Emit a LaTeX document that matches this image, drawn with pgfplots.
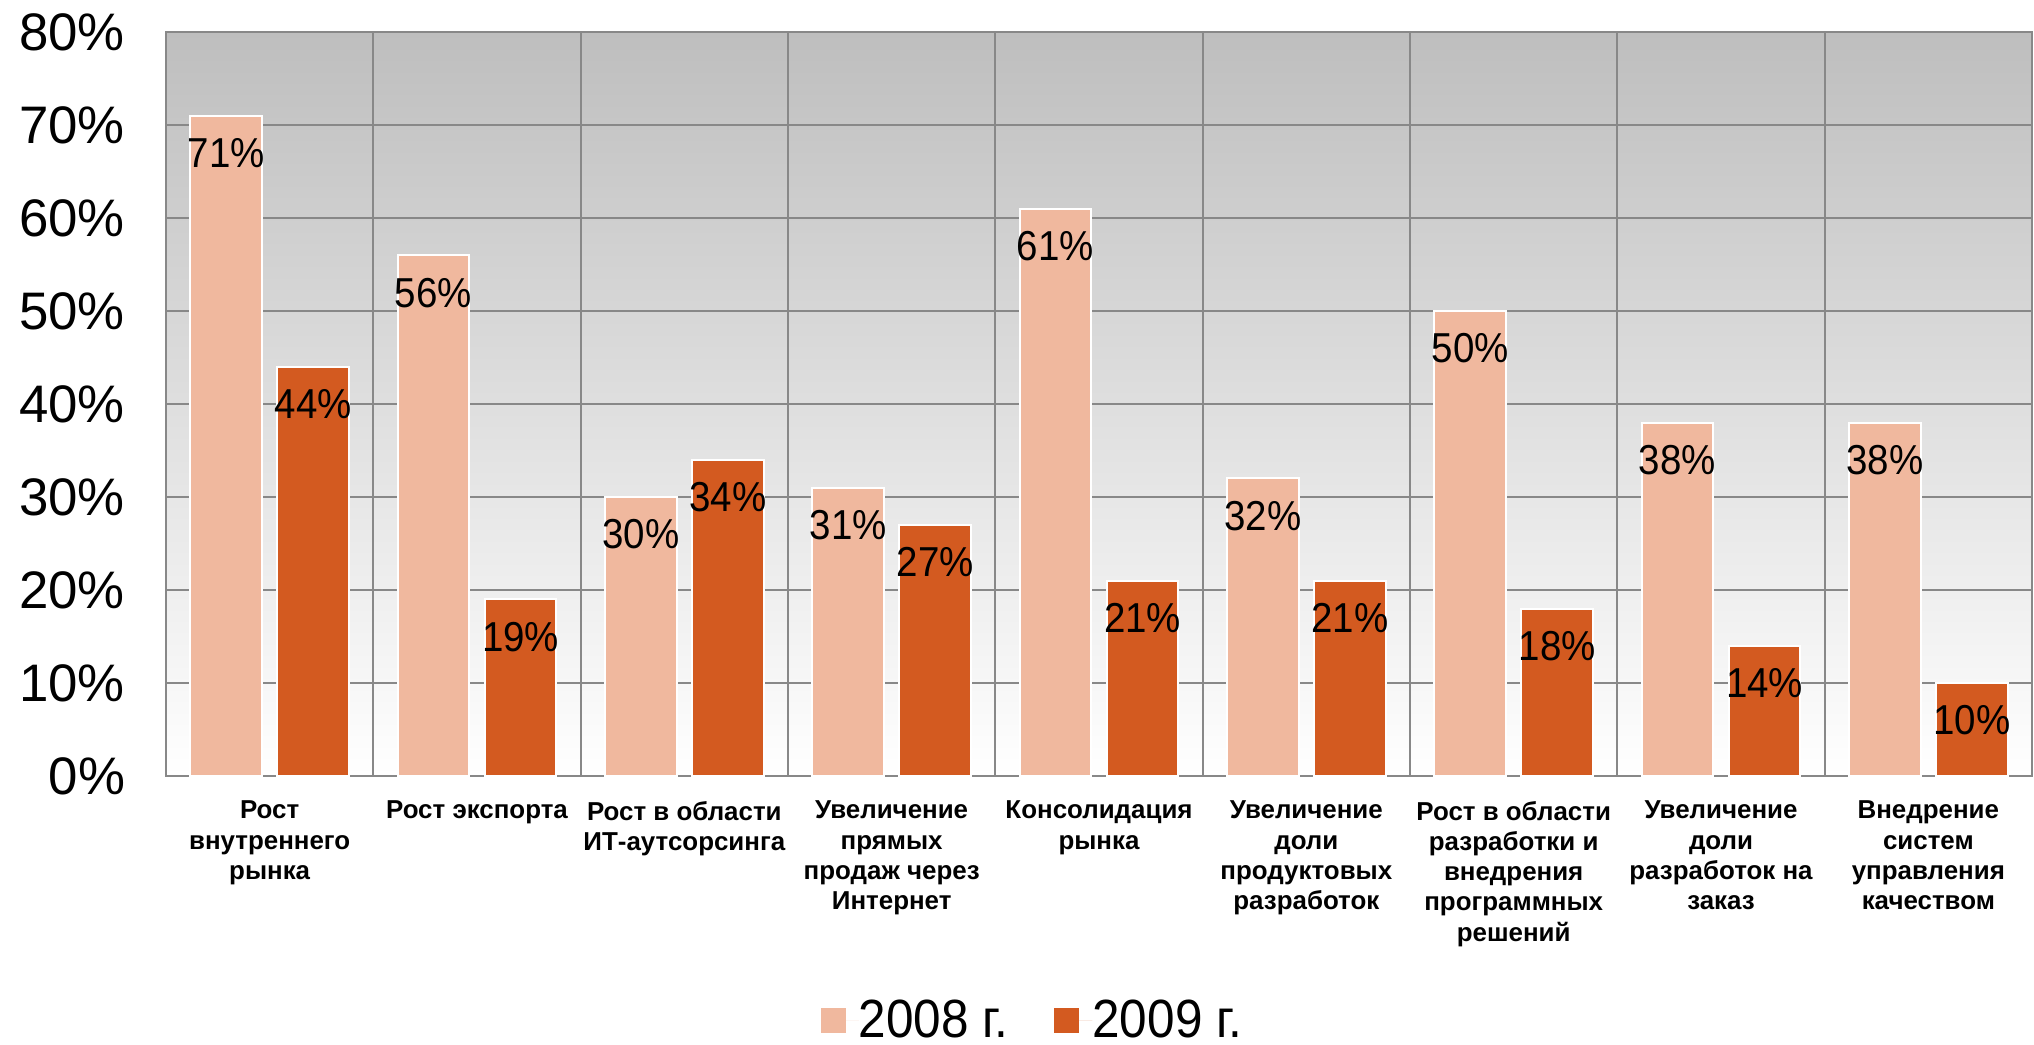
\documentclass[border=0pt]{standalone}
\usepackage{fontspec}
\setmainfont{Liberation Sans}
\newfontfamily\narrowfont[FakeStretch=0.92]{Liberation Sans}
\usepackage{pgfplots}
\pgfplotsset{compat=1.18}
\definecolor{c2008}{HTML}{F0B89E}
\definecolor{c2009}{HTML}{D35A20}
\definecolor{gridc}{HTML}{888888}
\definecolor{bgtop}{HTML}{BEBEBE}
\begin{document}
\begin{tikzpicture}
\begin{axis}[
  scale only axis, width=933bp, height=372bp,
  xmin=-0.5, xmax=8.5, ymin=0, ymax=80,
  ybar, bar width=0.345,
  /pgf/number format/assume math mode=true,
  axis background/.style={top color=bgtop, bottom color=white},
  axis line style={gridc, line width=1.2bp},
  ymajorgrids, grid style={gridc, line width=1bp},
  xtick={0,...,8}, minor xtick={-0.5,0.5,...,8.5},
  xminorgrids, minor grid style={gridc, line width=1bp},
  major tick length=0pt, minor tick length=0pt,
  xticklabels={{Рост\\внутреннего\\рынка},{Рост экспорта},{Рост в области\\ИТ-аутсорсинга},
    {Увеличение\\прямых\\продаж через\\Интернет},{Консолидация\\рынка},
    {Увеличение\\доли\\продуктовых\\разработок},
    {Рост в области\\разработки и\\внедрения\\программных\\решений},
    {Увеличение\\доли\\разработок на\\заказ},{Внедрение\\систем\\управления\\качеством}},
  xticklabel style={font=\bfseries\fontsize{13}{15.2}\selectfont, align=center, anchor=north, yshift=-9bp},
  ytick={0,10,...,80},
  yticklabels={0\%,10\%,20\%,30\%,40\%,50\%,60\%,70\%,80\%},
  yticklabel style={font=\fontsize{26.5}{30}\selectfont, xshift=-17bp},
  nodes near coords={\pgfmathprintnumber{\pgfplotspointmeta}\%},
  every node near coord/.append style={anchor=north, yshift=-7.5bp, text=black,
    font=\narrowfont\fontsize{21}{24}\selectfont},
  legend columns=2,
  legend style={at={(0.4638,-0.328)}, anchor=center, draw=none, fill=none,
    font=\narrowfont\fontsize{27}{31}\selectfont,
    nodes={inner sep=0pt},
    /tikz/every even column/.append style={column sep=23bp}},
  clip=false,
]
\addplot[bar shift=-0.21, fill=c2008, draw=white, line width=1bp,
  legend image code/.code={\fill[c2008, draw=none] (0bp,-6.25bp) rectangle (12.5bp,6.25bp); \path[draw=none] (0bp,0bp) -- (19bp,0bp);}]
  coordinates {(0,71) (1,56) (2,30) (3,31) (4,61) (5,32) (6,50) (7,38) (8,38)};
\addlegendentry{2008 г.}
\addplot[bar shift=0.21, fill=c2009, draw=white, line width=1bp,
  legend image code/.code={\fill[c2009, draw=none] (0bp,-6.25bp) rectangle (12.5bp,6.25bp); \path[draw=none] (0bp,0bp) -- (19bp,0bp);}]
  coordinates {(0,44) (1,19) (2,34) (3,27) (4,21) (5,21) (6,18) (7,14) (8,10)};
\addlegendentry{2009 г.}
\coordinate (bl) at (rel axis cs:0,0);
\coordinate (tr) at (rel axis cs:1,1);
\end{axis}
\pgfresetboundingbox
\path[use as bounding box] ([shift={(-83bp,-134.5bp)}]bl) rectangle ([shift={(1bp,16bp)}]tr);
\end{tikzpicture}
\end{document}
